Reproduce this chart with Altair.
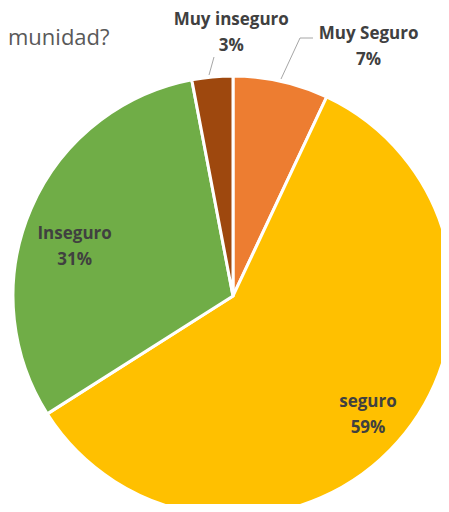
import altair as alt
import pandas as pd

categories = ["Muy Seguro", "seguro", "Inseguro", "Muy inseguro"]
values = [7, 59, 31, 3]
pct_labels = ["7%", "59%", "31%", "3%"]
colors = ["#ED7D31", "#FFC000", "#70AD47", "#9E480E"]

df = pd.DataFrame({
    "cat": categories,
    "value": values,
    "idx": list(range(len(categories))),
    "label": [f"{c}\n{p}" for c, p in zip(categories, pct_labels)],
})

CX, CY, R = 225, 288, 220

base = alt.Chart(df).encode(
    theta=alt.Theta("value:Q", stack=True),
    order=alt.Order("idx:Q"),
    x=alt.value(CX),
    y=alt.value(CY),
)

pie = base.mark_arc(outerRadius=R, stroke="white", strokeWidth=3).encode(
    color=alt.Color("cat:N", scale=alt.Scale(domain=categories, range=colors), legend=None),
    detail="cat:N",
)

def label_layer(cat, radius, dx, dy):
    return base.transform_calculate(
        lab=f"datum.cat == '{cat}' ? datum.label : ''"
    ).mark_text(
        radius=radius, dx=dx, dy=dy - 13, font="Open Sans", fontSize=17, fontWeight="bold",
        color="#404040", lineBreak="\n", lineHeight=26, align="center", baseline="middle",
    ).encode(text="lab:N", detail="cat:N")

t_seg = label_layer("seguro", 180, 0, 0)
t_ins = label_layer("Inseguro", 166, -6, 17)
t_mins = label_layer("Muy inseguro", 263, 23, -1)
t_mseg = label_layer("Muy Seguro", 255, 80, 0)

line_src = alt.Chart(pd.DataFrame({"k": [0]}))
lead1 = line_src.mark_rule(color="#A6A6A6", strokeWidth=1).encode(
    x=alt.value(206), y=alt.value(49), x2=alt.value(201), y2=alt.value(67))
lead2a = line_src.mark_rule(color="#A6A6A6", strokeWidth=1).encode(
    x=alt.value(273), y=alt.value(71), x2=alt.value(292), y2=alt.value(30))
lead2b = line_src.mark_rule(color="#A6A6A6", strokeWidth=1).encode(
    x=alt.value(292), y=alt.value(30), x2=alt.value(305), y2=alt.value(30))

title = line_src.mark_text(
    text="munidad?", font="Open Sans", fontSize=22, color="#595959",
    align="left", baseline="alphabetic",
).encode(x=alt.value(0), y=alt.value(37))

chart = alt.layer(pie, t_seg, t_ins, t_mins, t_mseg, lead1, lead2a, lead2b, title).properties(
    width=433, height=496, padding=0, autosize=alt.AutoSizeParams(type="none"),
    background="white",
).configure_view(strokeWidth=0)

chart.save("out.html", embed_options={"renderer": "svg", "actions": False})
